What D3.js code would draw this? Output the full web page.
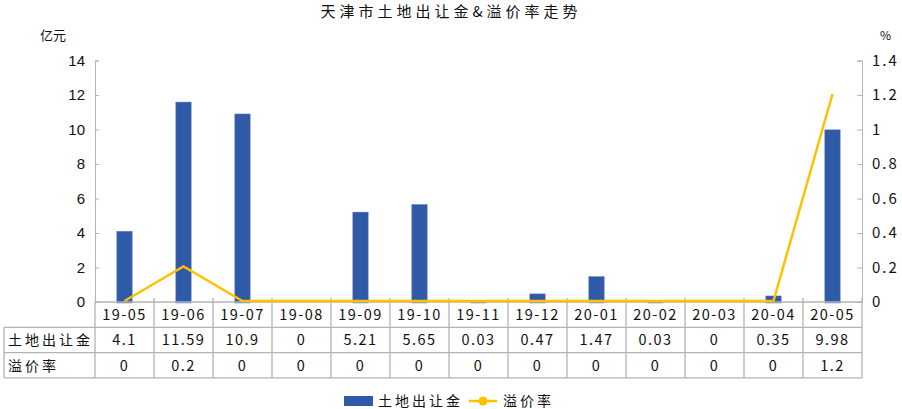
<!DOCTYPE html>
<html>
<head>
<meta charset="utf-8">
<script src="https://cdn.jsdelivr.net/npm/d3@7"></script>
<style>
  body { margin: 0; background: #fff; }
  text { font-family: "Noto Sans CJK SC", sans-serif; fill: #111; }
</style>
</head>
<body>
<div id="chart"></div>
<script>
var months = ["19-05", "19-06", "19-07", "19-08", "19-09", "19-10", "19-11", "19-12", "20-01", "20-02", "20-03", "20-04", "20-05"];
var landFee = [4.1, 11.59, 10.9, 0, 5.21, 5.65, 0.03, 0.47, 1.47, 0.03, 0, 0.35, 9.98];
var premium = [0, 0.2, 0, 0, 0, 0, 0, 0, 0, 0, 0, 0, 1.2];
var leftTicks = [0, 2, 4, 6, 8, 10, 12, 14];
var rightTicks = [0, 0.2, 0.4, 0.6, 0.8, 1, 1.2, 1.4];

var width = 902, height = 409;
var plotLeft = 95, plotRight = 862, plotTop = 60.5, plotBottom = 302;
var rowH = 25.3;
var gridCol = "#b4b4b4";

var svg = d3.select("#chart").append("svg")
  .attr("width", width)
  .attr("height", height);

// title + units
svg.append("text")
  .attr("x", 451).attr("y", 17)
  .attr("text-anchor", "middle")
  .style("font-size", "15px")
  .style("letter-spacing", "4px")
  .text("天津市土地出让金&溢价率走势");
svg.append("text").attr("x", 40).attr("y", 40).style("font-size", "13px").text("亿元");
svg.append("text").attr("x", 880).attr("y", 40).style("font-size", "12px").text("%");

var x = d3.scaleBand().domain(months).range([plotLeft, plotRight]);
var y = d3.scaleLinear().domain([0, 14]).range([plotBottom, plotTop]);
var y2 = d3.scaleLinear().domain([0, 1.4]).range([plotBottom, plotTop]);

// left axis
var gl = svg.append("g").attr("transform", "translate(" + plotLeft + ",0)")
  .call(d3.axisRight(y).tickValues(leftTicks).tickSize(4).tickFormat(d3.format("d")));
gl.select(".domain").attr("stroke", gridCol);
gl.selectAll(".tick line").attr("stroke", gridCol);
gl.selectAll(".tick text").attr("x", -10).attr("text-anchor", "end")
  .style("font-size", "15px").style("font-family", "Liberation Sans, Arial, sans-serif");

// right axis
var gr = svg.append("g").attr("transform", "translate(" + plotRight + ",0)")
  .call(d3.axisLeft(y2).tickValues(rightTicks).tickSize(5).tickFormat(function (d) { return d === 0 ? "0" : d3.format(".1f")(d).replace(/\.0$/, ""); }));
gr.select(".domain").attr("stroke", gridCol);
gr.selectAll(".tick line").attr("stroke", gridCol);
gr.selectAll(".tick text").attr("x", 10).attr("text-anchor", "start")
  .style("font-size", "15px").style("letter-spacing", "2px");

// bars
var bw = x.bandwidth() * 0.26;
svg.append("g").selectAll("rect")
  .data(months)
  .enter()
  .append("rect")
  .attr("x", function (d) { return x(d) + x.bandwidth() / 2 - bw / 2; })
  .attr("y", function (d, i) { return Math.min(y(landFee[i]), plotBottom - 1.5); })
  .attr("width", bw)
  .attr("height", function (d, i) { return Math.max(plotBottom - y(landFee[i]), 1.5) + 1; })
  .attr("fill", "#2e5aa8")
  .attr("stroke", "#5b7fc0")
  .attr("stroke-width", 0.5)
  .style("display", function (d, i) { return landFee[i] > 0 ? null : "none"; });

// table lines
var tbl = svg.append("g").attr("stroke", gridCol).attr("stroke-width", 1.3);
var tableLeft = 4, tableBottom = plotBottom + rowH * 3;
tbl.append("line").attr("x1", plotLeft).attr("x2", plotRight).attr("y1", plotBottom).attr("y2", plotBottom);
[1, 2, 3].forEach(function (r) {
  tbl.append("line").attr("x1", tableLeft).attr("x2", plotRight)
    .attr("y1", plotBottom + rowH * r).attr("y2", plotBottom + rowH * r);
});
tbl.append("line").attr("x1", tableLeft).attr("x2", tableLeft)
  .attr("y1", plotBottom + rowH).attr("y2", tableBottom);
tbl.append("line").attr("x1", plotLeft).attr("x2", plotLeft).attr("y1", plotBottom).attr("y2", tableBottom);
months.forEach(function (m) {
  tbl.append("line").attr("x1", x(m) + x.bandwidth()).attr("x2", x(m) + x.bandwidth())
    .attr("y1", plotBottom - 4).attr("y2", tableBottom);
});

// line series
var line = d3.line()
  .x(function (d, i) { return x(months[i]) + x.bandwidth() / 2; })
  .y(function (d) { return y2(d) - 1; });
svg.append("path")
  .datum(premium)
  .attr("fill", "none")
  .attr("stroke", "#ffc000")
  .attr("stroke-width", 2.5)
  .attr("d", line);

// table text
var rows = [
  { label: null, vals: months },
  { label: "土地出让金", vals: landFee },
  { label: "溢价率", vals: premium }
];
rows.forEach(function (row, r) {
  var cy = plotBottom + rowH * r + rowH / 2 + 5.5;
  if (row.label) {
    svg.append("text").attr("x", 8).attr("y", cy)
      .style("font-size", "14px").style("letter-spacing", "3px").text(row.label);
  }
  svg.append("g").selectAll("text")
    .data(row.vals)
    .enter()
    .append("text")
    .attr("x", function (d, i) { return x(months[i]) + x.bandwidth() / 2; })
    .attr("y", cy)
    .attr("text-anchor", "middle")
    .style("font-size", "14.5px")
    .style("letter-spacing", "1.5px")
    .text(function (d) { return String(d); });
});

// legend
var lg = svg.append("g");
lg.append("rect").attr("x", 344).attr("y", 396).attr("width", 29).attr("height", 10).attr("fill", "#2e5aa8");
lg.append("text").attr("x", 378).attr("y", 406).style("font-size", "14px").style("letter-spacing", "3px").text("土地出让金");
lg.append("line").attr("x1", 469).attr("x2", 497).attr("y1", 401).attr("y2", 401)
  .attr("stroke", "#ffc000").attr("stroke-width", 2.5);
lg.append("circle").attr("cx", 483).attr("cy", 401).attr("r", 4.5).attr("fill", "#ffc000");
lg.append("text").attr("x", 503).attr("y", 406).style("font-size", "14px").style("letter-spacing", "3px").text("溢价率");
</script>
</body>
</html>
